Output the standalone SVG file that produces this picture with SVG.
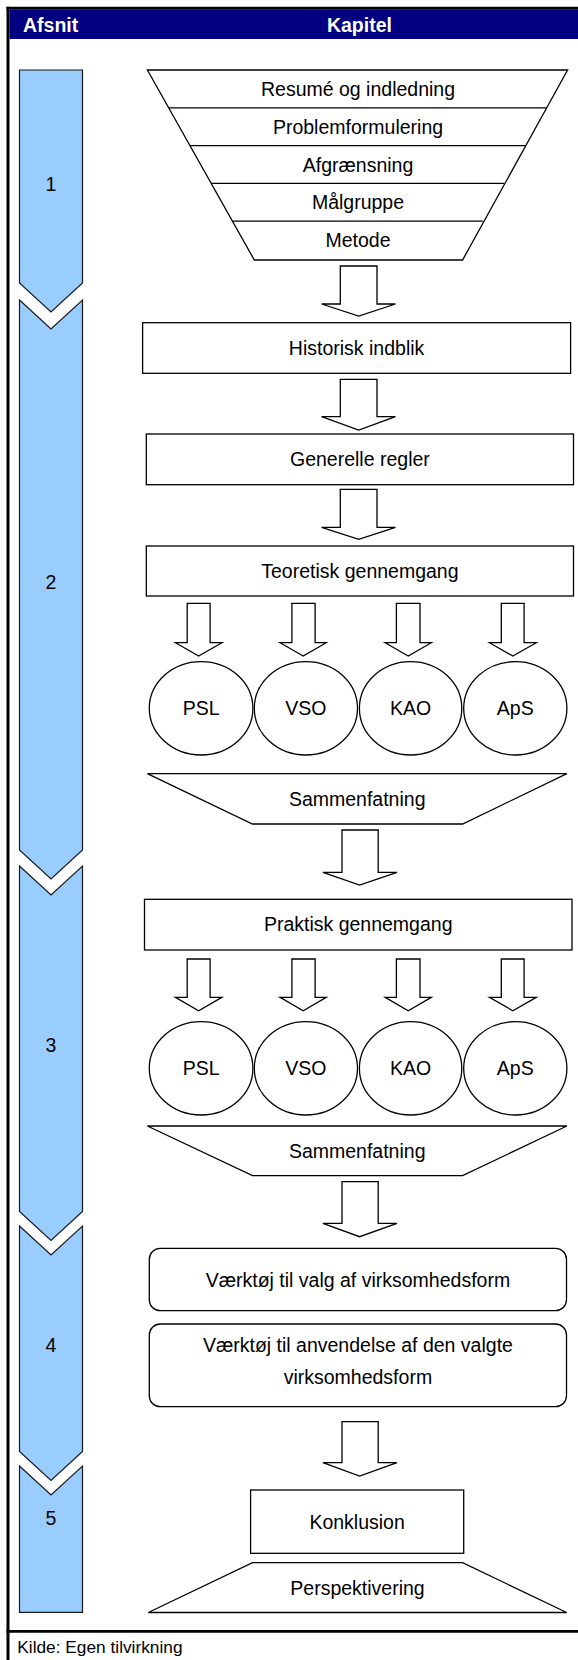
<svg xmlns="http://www.w3.org/2000/svg" width="578" height="1660" viewBox="0 0 578 1660">
  <style>
    .shape { fill: #ffffff; stroke: #000000; stroke-width: 1.3; stroke-linejoin: miter; }
    .seg { fill: #99ccff; stroke: #1a1a1a; stroke-width: 1.2; }
    .arrow { fill: #ffffff; stroke: #000000; stroke-width: 1.3; stroke-linejoin: miter; }
    .lbl { font-family: "Liberation Sans", Arial, sans-serif; font-size: 19.5px; fill: #000000; text-anchor: middle; }
    .head { font-family: "Liberation Sans", Arial, sans-serif; font-size: 19.5px; font-weight: bold; fill: #ffffff; }
    .note { font-family: "Liberation Sans", Arial, sans-serif; font-size: 17.3px; fill: #000000; }
  </style>

  <rect x="0" y="0" width="578" height="1660" fill="#ffffff"/>

  <!-- frame and header band -->
  <g id="frame">
    <rect x="9.5" y="9.7" width="570" height="29.3" fill="#000080"/>
    <line x1="6.5" y1="8.2" x2="578" y2="8.2" stroke="#000000" stroke-width="3"/>
    <line x1="8" y1="6.7" x2="8" y2="1660" stroke="#000000" stroke-width="3"/>
    <line x1="6.5" y1="1631.3" x2="578" y2="1631.3" stroke="#000000" stroke-width="2.8"/>
    <text class="head" x="23" y="32.3">Afsnit</text>
    <text class="head" x="359.4" y="32.3" text-anchor="middle">Kapitel</text>
  </g>

  <!-- section column (chevron segments) -->
  <g id="sections">
    <g id="section-1">
      <polygon class="seg" points="19.5,70 82.5,70 82.5,283 51,312 19.5,283"/>
      <text class="lbl" x="51" y="190.7">1</text>
    </g>
    <g id="section-2">
      <polygon class="seg" points="19.5,300 51,329 82.5,300 82.5,850 51,879 19.5,850"/>
      <text class="lbl" x="51" y="589">2</text>
    </g>
    <g id="section-3">
      <polygon class="seg" points="19.5,866 51,895 82.5,866 82.5,1211.5 51,1240.5 19.5,1211.5"/>
      <text class="lbl" x="51" y="1051.7">3</text>
    </g>
    <g id="section-4">
      <polygon class="seg" points="19.5,1226 51,1255 82.5,1226 82.5,1451.5 51,1480.5 19.5,1451.5"/>
      <text class="lbl" x="51" y="1351.7">4</text>
    </g>
    <g id="section-5">
      <polygon class="seg" points="19.5,1466 51,1495 82.5,1466 82.5,1612.3 19.5,1612.3"/>
      <text class="lbl" x="51" y="1525">5</text>
    </g>
  </g>

  <!-- introduction funnel -->
  <g id="funnel">
    <polygon class="shape" points="147.4,70 567.6,70 462.6,260 254.3,260"/>
    <line class="shape" x1="168.6" y1="107.8" x2="546.4" y2="107.8"/>
    <line class="shape" x1="189.8" y1="145.6" x2="525.2" y2="145.6"/>
    <line class="shape" x1="211.1" y1="183.4" x2="503.9" y2="183.4"/>
    <line class="shape" x1="232.3" y1="221.2" x2="482.7" y2="221.2"/>
    <text class="lbl" x="358" y="96">Resumé og indledning</text>
    <text class="lbl" x="358" y="133.8">Problemformulering</text>
    <text class="lbl" x="358" y="171.6">Afgrænsning</text>
    <text class="lbl" x="358" y="209.4">Målgruppe</text>
    <text class="lbl" x="358" y="247.2">Metode</text>
  </g>

  <g id="historisk">
    <rect class="shape" x="142.6" y="322.7" width="428" height="50.6"/>
    <text class="lbl" x="356.6" y="354.5">Historisk indblik</text>
  </g>

  <g id="generelle">
    <rect class="shape" x="146.3" y="434" width="427.2" height="50.7"/>
    <text class="lbl" x="359.9" y="465.8">Generelle regler</text>
  </g>

  <g id="teoretisk">
    <rect class="shape" x="146.3" y="546" width="427.2" height="50"/>
    <text class="lbl" x="359.9" y="577.5">Teoretisk gennemgang</text>
  </g>

  <g id="teori-psl">
    <ellipse class="shape" cx="201.1" cy="708.3" rx="51.8" ry="46.7"/>
    <text class="lbl" x="201.1" y="715.3">PSL</text>
  </g>
  <g id="teori-vso">
    <ellipse class="shape" cx="305.9" cy="708.3" rx="51.6" ry="46.7"/>
    <text class="lbl" x="305.9" y="715.3">VSO</text>
  </g>
  <g id="teori-kao">
    <ellipse class="shape" cx="410.6" cy="708.3" rx="51.2" ry="46.7"/>
    <text class="lbl" x="410.6" y="715.3">KAO</text>
  </g>
  <g id="teori-aps">
    <ellipse class="shape" cx="515.3" cy="708.3" rx="51.6" ry="46.7"/>
    <text class="lbl" x="515.3" y="715.3">ApS</text>
  </g>

  <g id="sammenfatning-1">
    <polygon class="shape" points="147.4,773.7 566.9,773.7 462.6,824 252.5,824"/>
    <text class="lbl" x="357.2" y="805.5">Sammenfatning</text>
  </g>

  <g id="praktisk">
    <rect class="shape" x="144.5" y="899.3" width="427.5" height="50.7"/>
    <text class="lbl" x="358.2" y="931">Praktisk gennemgang</text>
  </g>

  <g id="praksis-psl">
    <ellipse class="shape" cx="201.1" cy="1068.3" rx="51.8" ry="46.7"/>
    <text class="lbl" x="201.1" y="1075.3">PSL</text>
  </g>
  <g id="praksis-vso">
    <ellipse class="shape" cx="305.9" cy="1068.3" rx="51.6" ry="46.7"/>
    <text class="lbl" x="305.9" y="1075.3">VSO</text>
  </g>
  <g id="praksis-kao">
    <ellipse class="shape" cx="410.6" cy="1068.3" rx="51.2" ry="46.7"/>
    <text class="lbl" x="410.6" y="1075.3">KAO</text>
  </g>
  <g id="praksis-aps">
    <ellipse class="shape" cx="515.3" cy="1068.3" rx="51.6" ry="46.7"/>
    <text class="lbl" x="515.3" y="1075.3">ApS</text>
  </g>

  <g id="sammenfatning-2">
    <polygon class="shape" points="147.4,1126 566.9,1126 462.6,1175.7 252.5,1175.7"/>
    <text class="lbl" x="357.2" y="1157.5">Sammenfatning</text>
  </g>

  <g id="vaerktoej-valg">
    <rect class="shape" x="149.3" y="1248.3" width="417.2" height="62.4" rx="11" ry="11"/>
    <text class="lbl" x="357.9" y="1286.5">Værktøj til valg af virksomhedsform</text>
  </g>

  <g id="vaerktoej-anvendelse">
    <rect class="shape" x="149.3" y="1324" width="417.2" height="82.7" rx="11" ry="11"/>
    <text class="lbl" x="357.9" y="1352">Værktøj til anvendelse af den valgte</text>
    <text class="lbl" x="357.9" y="1383.5">virksomhedsform</text>
  </g>

  <g id="konklusion">
    <rect class="shape" x="250.6" y="1490" width="213.1" height="63.3"/>
    <text class="lbl" x="357.1" y="1528.5">Konklusion</text>
  </g>

  <g id="perspektivering">
    <polygon class="shape" points="252.5,1562.7 462.6,1562.7 566.7,1612.5 148.3,1612.5"/>
    <text class="lbl" x="357.5" y="1594.5">Perspektivering</text>
  </g>

  <!-- block arrows between chapters -->
  <g id="connectors">
    <polygon class="arrow" points="340.3,266 377,266 377,304 395.5,304 358.7,316 321.6,304 340.3,304"/>
    <polygon class="arrow" points="340.3,379.3 377,379.3 377,416.7 395.5,416.7 358.7,430 321.6,416.7 340.3,416.7"/>
    <polygon class="arrow" points="340.3,489.3 377,489.3 377,527.3 395.5,527.3 358.7,539.3 321.6,527.3 340.3,527.3"/>

    <polygon class="arrow" points="187.2,603.3 210.1,603.3 210.1,642.7 221.9,642.7 198.6,656 175.5,642.7 187.2,642.7"/>
    <polygon class="arrow" points="291.9,603.3 315.1,603.3 315.1,642.7 326.2,642.7 303.2,656 280.1,642.7 291.9,642.7"/>
    <polygon class="arrow" points="396.4,603.3 420,603.3 420,642.7 431.3,642.7 408.2,656 385.2,642.7 396.4,642.7"/>
    <polygon class="arrow" points="501.3,603.3 524.1,603.3 524.1,642.7 536.3,642.7 512.8,656 489.5,642.7 501.3,642.7"/>

    <polygon class="arrow" points="342,830 378.2,830 378.2,872.3 397,872.3 359.6,885 322.9,872.3 342,872.3"/>

    <polygon class="arrow" points="187.2,959 210.1,959 210.1,997.3 221.9,997.3 198.6,1010.7 175.5,997.3 187.2,997.3"/>
    <polygon class="arrow" points="291.9,959 315.1,959 315.1,997.3 326.2,997.3 303.2,1010.7 280.1,997.3 291.9,997.3"/>
    <polygon class="arrow" points="396.4,959 420,959 420,997.3 431.3,997.3 408.2,1010.7 385.2,997.3 396.4,997.3"/>
    <polygon class="arrow" points="501.3,959 524.1,959 524.1,997.3 536.3,997.3 512.8,1010.7 489.5,997.3 501.3,997.3"/>

    <polygon class="arrow" points="342,1181.7 378.2,1181.7 378.2,1223.3 397,1223.3 359.6,1236.7 322.9,1223.3 342,1223.3"/>
    <polygon class="arrow" points="342,1421.7 378.2,1421.7 378.2,1462.7 397,1462.7 359.6,1476 322.9,1462.7 342,1462.7"/>
  </g>

  <g id="source">
    <text class="note" x="17.3" y="1652.7">Kilde: Egen tilvirkning</text>
  </g>
</svg>
